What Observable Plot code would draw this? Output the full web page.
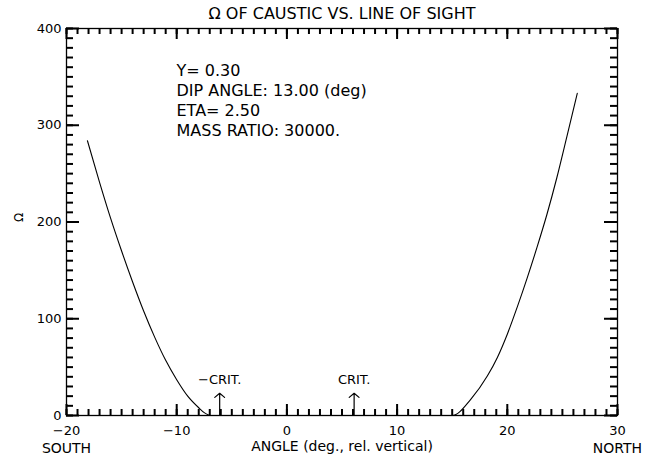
<!DOCTYPE html>
<html><head><meta charset="utf-8">
<script src="https://cdn.jsdelivr.net/npm/d3@7"></script>
<script src="https://cdn.jsdelivr.net/npm/@observablehq/plot@0.6"></script>
<style>
body{margin:0;background:#fff}
svg{font-family:"DejaVu Sans",sans-serif}
</style>
</head><body><div id="chart"></div>
<script>
const title = "Ω OF CAUSTIC VS. LINE OF SIGHT";
const yLabel = "Ω";
const xLabel = "ANGLE (deg., rel. vertical)";
// Ω of caustic vs line-of-sight angle
const angles = [-18.1,-17,-16,-15,-14,-13,-12,-11,-10,-9,-8,-7.5,-6.9,
                15.0,16.7,18.2,19.1,20.0,20.9,21.8,22.7,23.6,24.5,25.4,26.35];
const omega  = [284,241,204,170,138,108,81,57,37,20,8,3,0,
                0,17,41,60,84,112,142,174,208,246,288,333];
const critAngles = [-6.1, 6.1];
const critLabels = ["−CRIT.", "CRIT."];
const critArrowTop = 23;
const critLabelY = 37;
const infoLines = ["Y= 0.30","DIP ANGLE: 13.00 (deg)","ETA= 2.50","MASS RATIO: 30000."];
const xTicks = [-20,-10,0,10,20,30];
const xDirPos = [-20,30];
const xDirNames = ["SOUTH","NORTH"];
const yTicks = [0,100,200,300,400];

const W = 651, H = 462, mt = 28, mr = 34, mb = 47, ml = 66;
const iw = W - ml - mr, ih = H - mt - mb;
const xd = [-20, 30], yd = [0, 400];
const kx = (xd[1] - xd[0]) / iw, ky = (yd[1] - yd[0]) / ih; // data units per pixel
const xMinor = d3.range(-20, 31, 1);
const yMinor = d3.range(0, 401, 10);
const data = angles.map((a, i) => ({a, o: omega[i]}));
const tickStyle = {stroke: "#000", strokeWidth: 2};

const chart = Plot.plot({
  width: W, height: H,
  marginTop: mt, marginRight: mr, marginBottom: mb, marginLeft: ml,
  style: {fontSize: "13px", color: "#000", background: "#fff"},
  x: {domain: xd},
  y: {domain: yd},
  marks: [
    Plot.frame({stroke: "#000", strokeWidth: 1.3}),
    Plot.ruleX(xMinor, {x: d => d, y1: yd[0], y2: yd[0] + 6 * ky, ...tickStyle}),
    Plot.ruleX(xTicks, {x: d => d, y1: yd[0], y2: yd[0] + 11 * ky, ...tickStyle}),
    Plot.ruleX(xMinor, {x: d => d, y1: yd[1], y2: yd[1] - 6 * ky, ...tickStyle}),
    Plot.ruleX(xTicks, {x: d => d, y1: yd[1], y2: yd[1] - 11 * ky, ...tickStyle}),
    Plot.ruleY(yMinor, {y: d => d, x1: xd[0], x2: xd[0] + 7 * kx, ...tickStyle}),
    Plot.ruleY(yTicks, {y: d => d, x1: xd[0], x2: xd[0] + 13 * kx, ...tickStyle}),
    Plot.ruleY(yMinor, {y: d => d, x1: xd[1], x2: xd[1] - 7 * kx, ...tickStyle}),
    Plot.ruleY(yTicks, {y: d => d, x1: xd[1], x2: xd[1] - 13 * kx, ...tickStyle}),
    Plot.axisX(xTicks, {tickSize: 0, tickPadding: 10, label: null, fontSize: 13}),
    Plot.axisX(xDirPos, {tickSize: 0, tickPadding: 28, label: null, fontSize: 14,
      tickFormat: d => xDirNames[xDirPos.indexOf(d)]}),
    Plot.axisY(yTicks, {tickSize: 0, tickPadding: 5, label: null, fontSize: 13}),
    Plot.text([xLabel], {frameAnchor: "bottom", lineAnchor: "middle", dy: 31, fontSize: 14}),
    Plot.text([yLabel], {frameAnchor: "left", dx: -47, rotate: -90, fontSize: 12}),
    Plot.text([title], {frameAnchor: "top", lineAnchor: "middle", dy: -15, fontSize: 16,
      style: "letter-spacing:0.6px"}),
    Plot.line(data, {x: "a", y: "o", curve: "monotone-x", stroke: "#000", strokeWidth: 1.1}),
    Plot.arrow(critAngles, {x1: d => d, x2: d => d, y1: 0, y2: critArrowTop,
      headAngle: 100, headLength: 8, stroke: "#000", strokeWidth: 1.2}),
    Plot.text(critAngles, {x: d => d, y: critLabelY, text: (d, i) => critLabels[i], fontSize: 13}),
    Plot.text([infoLines.join("\n")], {frameAnchor: "top-left", dx: 110, dy: 34,
      lineAnchor: "top", textAnchor: "start", lineHeight: 1.23, fontSize: 16,
      style: "letter-spacing:1px"})
  ]
});
document.getElementById("chart").append(chart);
</script>
</body></html>
